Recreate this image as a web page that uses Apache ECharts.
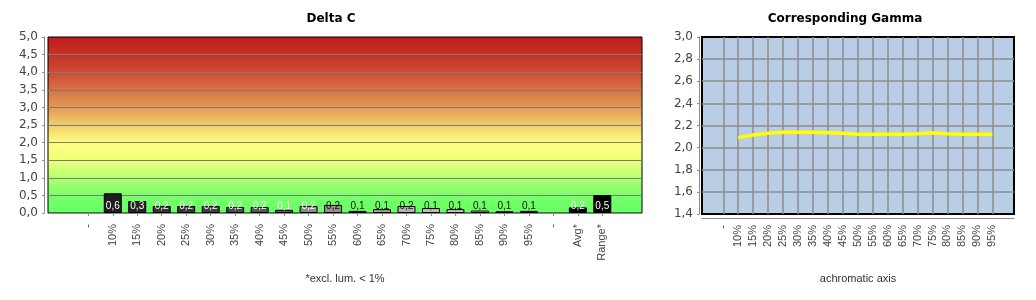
<!DOCTYPE html>
<html>
<head>
<meta charset="utf-8">
<script src="https://cdn.jsdelivr.net/npm/echarts@6/dist/echarts.min.js"></script>
<style>
html,body{margin:0;padding:0;background:#fff;}
#c{width:1036px;height:300px;}
</style>
</head>
<body>
<div id="c"></div>
<script>
// ---- data ----
const dcCategories = ['-','10%','15%','20%','25%','30%','35%','40%','45%','50%','55%','60%','65%','70%','75%','80%','85%','90%','95%','-','Avg*','Range*'];
const dcValues = [null,0.56,0.34,0.2,0.2,0.2,0.17,0.17,0.09,0.2,0.23,0.06,0.11,0.2,0.14,0.11,0.07,0.05,0.06,null,0.16,0.51];
const gmCategories = ['-','10%','15%','20%','25%','30%','35%','40%','45%','50%','55%','60%','65%','70%','75%','80%','85%','90%','95%'];
const gmValues = [null,2.09,2.115,2.13,2.14,2.14,2.14,2.135,2.13,2.122,2.122,2.122,2.122,2.125,2.135,2.125,2.122,2.122,2.122];
const dcTicks = [0,0.5,1,1.5,2,2.5,3,3.5,4,4.5,5];
const gmTicks = [1.4,1.6,1.8,2.0,2.2,2.4,2.6,2.8,3.0];

// ---- styles ----
const barColors = ['#000','#1e1e1e','#242424','#333333','#383838','#404040','#484848','#555555','#606060','#8a8a8a','#909090','#9a9a9a','#a4a4a4','#b4b4b4','#bebebe','#cacaca','#dcdcdc','#e6e6e6','#f2f2f2','#000','#000','#000'];
const labelColors = ['#fff','#fff','#fff','#fff','#fff','#fff','#fff','#fff','#fff','#fff','#111','#111','#111','#111','#111','#111','#111','#111','#111','#fff','#fff','#fff'];

const fmt = v => (Math.round(v * 10) / 10).toFixed(1).replace('.', ',');
const AX = '#8a8a8a';
const FONT = 'DejaVu Sans';
const FONT2 = 'Liberation Sans';

const chart = echarts.init(document.getElementById('c'), null, {renderer: 'canvas'});

const dcData = dcValues.map((v, i) => v == null ? null : ({
  value: v,
  itemStyle: {color: barColors[i]},
  label: {color: labelColors[i]}
}));

const option = {
  animation: false,
  backgroundColor: '#fff',
  title: [
    {text: 'Delta C', left: 331, top: 13, textAlign: 'center', padding: 0,
     textStyle: {fontFamily: FONT, fontSize: 12, fontWeight: 'bold', color: '#000'}},
    {text: 'Corresponding Gamma', left: 845, top: 13, textAlign: 'center', padding: 0,
     textStyle: {fontFamily: FONT, fontSize: 12, fontWeight: 'bold', color: '#000'}},
    {text: '*excl. lum. < 1%', left: 345, top: 273, textAlign: 'center', padding: 0,
     textStyle: {fontFamily: FONT2, fontSize: 11, fontWeight: 'normal', color: '#333'}},
    {text: 'achromatic axis', left: 858, top: 273, textAlign: 'center', padding: 0,
     textStyle: {fontFamily: FONT2, fontSize: 11, fontWeight: 'normal', color: '#333'}}
  ],
  grid: [
    {left: 48, right: 394, top: 37, bottom: 87, show: true, borderColor: '#000', borderWidth: 1,
     backgroundColor: new echarts.graphic.LinearGradient(0, 0, 0, 1, [
       {offset: 0, color: '#BE1A1C'},
       {offset: 0.2, color: '#CD4A33'},
       {offset: 0.4, color: '#E39A55'},
       {offset: 0.6, color: '#FFFF80'},
       {offset: 0.7, color: '#EEFF7C'},
       {offset: 0.8, color: '#B4FF72'},
       {offset: 0.9, color: '#78FF68'},
       {offset: 1, color: '#66FF66'}
     ])},
    {left: 88.3, right: 433.7, top: 37, bottom: 87},
    {left: 702, right: 22, top: 37, bottom: 86, show: true, borderColor: '#000', borderWidth: 2,
     backgroundColor: '#B9CDE5'},
    {left: 723.3, right: 43.7, top: 37, bottom: 86}
  ],
  xAxis: [
    {gridIndex: 0, type: 'category', data: [''], offset: 4,
     axisLine: {show: true, lineStyle: {color: AX, width: 1}},
     axisTick: {show: false}, axisLabel: {show: false}, splitLine: {show: false}},
    {gridIndex: 1, type: 'category', data: dcCategories, boundaryGap: false, offset: 4,
     axisLine: {show: false},
     axisTick: {show: true, interval: 0, length: 3, lineStyle: {color: AX}},
     axisLabel: {interval: 0, rotate: 90, margin: 7, fontFamily: FONT2, fontSize: 11, color: '#444'},
     splitLine: {show: false}},
    {gridIndex: 2, type: 'category', data: [''], offset: 4,
     axisLine: {show: true, lineStyle: {color: AX, width: 1}},
     axisTick: {show: false}, axisLabel: {show: false}, splitLine: {show: false}},
    {gridIndex: 3, type: 'category', data: gmCategories, boundaryGap: false, offset: 4,
     axisLine: {show: false},
     axisTick: {show: false},
     axisLabel: {interval: 0, rotate: 90, margin: 7, fontFamily: FONT2, fontSize: 11, color: '#444'},
     splitLine: {show: true, interval: 0, lineStyle: {color: '#8c8c8c', width: 1.5}}}
  ],
  yAxis: [
    {gridIndex: 0, type: 'value', min: dcTicks[0], max: dcTicks[dcTicks.length - 1], interval: 0.5, offset: 4,
     axisLine: {show: true, lineStyle: {color: AX}},
     axisTick: {show: true, length: 2, lineStyle: {color: AX}},
     axisLabel: {margin: 6, fontFamily: FONT, fontSize: 12, color: '#444', formatter: v => v.toFixed(1).replace('.', ',')},
     splitLine: {show: true, showMinLine: false, showMaxLine: false, lineStyle: {color: '#7a7a7a', width: 1}}},
    {gridIndex: 1, type: 'value', min: dcTicks[0], max: dcTicks[dcTicks.length - 1], show: false, splitLine: {show: false}},
    {gridIndex: 2, type: 'value', min: gmTicks[0], max: gmTicks[gmTicks.length - 1], interval: 0.2, offset: 3,
     axisLine: {show: true, lineStyle: {color: AX}},
     axisTick: {show: true, length: 2, lineStyle: {color: AX}},
     axisLabel: {margin: 6, fontFamily: FONT, fontSize: 12, color: '#444', formatter: v => v.toFixed(1).replace('.', ',')},
     splitLine: {show: true, showMinLine: false, showMaxLine: false, lineStyle: {color: '#8c8c8c', width: 1.5}}},
    {gridIndex: 3, type: 'value', min: gmTicks[0], max: gmTicks[gmTicks.length - 1], show: false, splitLine: {show: false}}
  ],
  series: [
    {type: 'bar', xAxisIndex: 1, yAxisIndex: 1, data: dcData, barWidth: 18,
     itemStyle: {borderColor: '#000', borderWidth: 1},
     label: {show: true, position: 'insideBottom', distance: 2, fontFamily: FONT2, fontSize: 10,
             formatter: p => fmt(p.value)}},
    {type: 'line', xAxisIndex: 3, yAxisIndex: 3, data: gmValues, symbol: 'none', connectNulls: false,
     lineStyle: {color: '#FFFF00', width: 3.5}}
  ]
};
chart.setOption(option);
</script>
</body>
</html>
